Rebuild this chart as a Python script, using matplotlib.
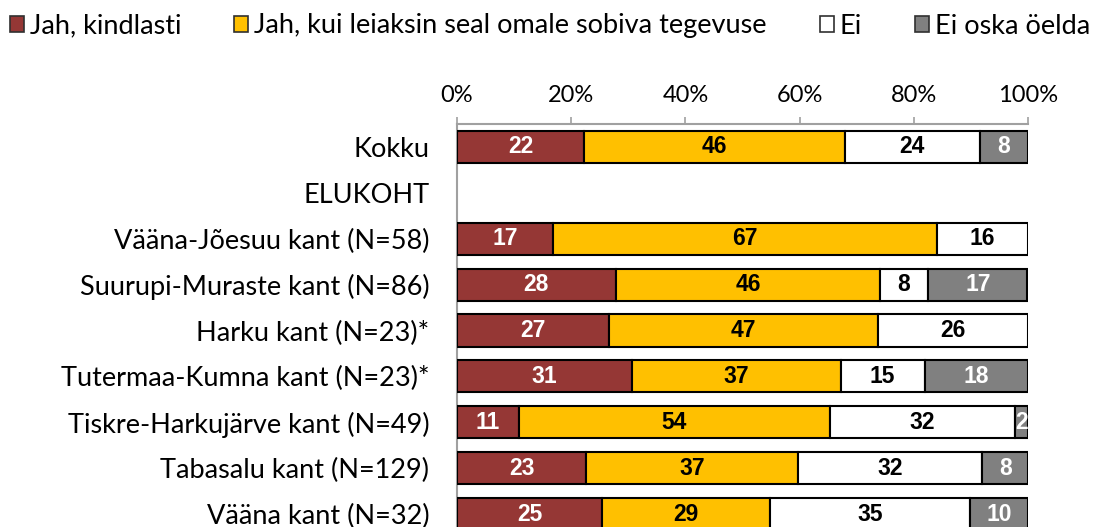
import matplotlib
matplotlib.use("Agg")
import matplotlib.pyplot as plt
from matplotlib.patches import Patch
import numpy as np

categories = ["Kokku", "ELUKOHT", "Vääna-Jõesuu kant (N=58)", "Suurupi-Muraste kant (N=86)",
              "Harku kant (N=23)*", "Tutermaa-Kumna kant (N=23)*", "Tiskre-Harkujärve kant (N=49)",
              "Tabasalu kant (N=129)", "Vääna kant (N=32)"]
series_names = ["Jah, kindlasti", "Jah, kui leiaksin seal omale sobiva tegevuse", "Ei", "Ei oska öelda"]
jah_kindlasti = [22.3, 0, 16.8, 27.8, 26.6, 30.6, 10.8, 22.6, 25.4]
jah_kui = [45.6, 0, 67.2, 46.3, 47.2, 36.6, 54.5, 37.2, 29.4]
ei = [23.7, 0, 16.0, 8.4, 26.2, 14.7, 32.4, 32.2, 35.0]
ei_oska = [8.4, 0, 0, 17.4, 0, 18.1, 2.3, 8.0, 10.2]
x_ticks = [0, 20, 40, 60, 80, 100]
x_tick_labels = ["0%", "20%", "40%", "60%", "80%", "100%"]

colors = ["#953735", "#FFC000", "#FFFFFF", "#808080"]
label_colors = ["white", "black", "black", "white"]

W, H = 1105, 527
fig = plt.figure(figsize=(W / 100, H / 100), dpi=100)
ax_left, ax_right, ax_top, ax_bottom = 457, 1028, 124, 537
ax = fig.add_axes([ax_left / W, (H - ax_bottom) / H, (ax_right - ax_left) / W, (ax_bottom - ax_top) / H])

y = np.arange(len(categories))
series = [jah_kindlasti, jah_kui, ei, ei_oska]
left = np.zeros(len(categories))
for vals, c, lc in zip(series, colors, label_colors):
    vals = np.array(vals, dtype=float)
    mask = vals > 0
    bars = ax.barh(y[mask], vals[mask], left=left[mask], height=0.70, color=c,
                   edgecolor="black", linewidth=1.5, zorder=3)
    for b, v in zip(bars, vals[mask]):
        cx = b.get_x() + b.get_width() / 2
        cy = b.get_y() + b.get_height() / 2
        ax.text(cx, cy, f"{v:.0f}", ha="center", va="center", color=lc,
                fontsize=16.5, fontweight="bold", family="Liberation Sans",
                clip_on=True, zorder=4)
    left = left + vals

ax.set_xlim(0, 100)
ax.set_ylim(len(categories) - 0.5, -0.5)
ax.xaxis.tick_top()
ax.set_xticks(x_ticks)
ax.set_xticklabels(x_tick_labels, fontsize=17, family="Lato")
ax.tick_params(axis="x", length=5, width=1.2, color="#A0A0A0", pad=8)
ax.set_yticks(y)
ax.set_yticklabels(categories, fontsize=19.5, family="Lato")
ax.tick_params(axis="y", length=0, pad=20)
for s in ["right", "bottom"]:
    ax.spines[s].set_visible(False)
for s in ["top", "left"]:
    ax.spines[s].set_color("#A0A0A0")
    ax.spines[s].set_linewidth(1.5)

handles = [Patch(facecolor=c, edgecolor="#303030", linewidth=1.2) for c in colors]
fig.legend(handles, series_names, loc="center left", bbox_to_anchor=(10 / W, 1 - 26 / H),
           ncol=4, frameon=False, prop={"family": "Lato", "size": 19.5},
           handlelength=0.52, handleheight=0.52, handletextpad=0.22, columnspacing=1.95,
           borderaxespad=0, borderpad=0)

fig.savefig("out.png", dpi=100)
